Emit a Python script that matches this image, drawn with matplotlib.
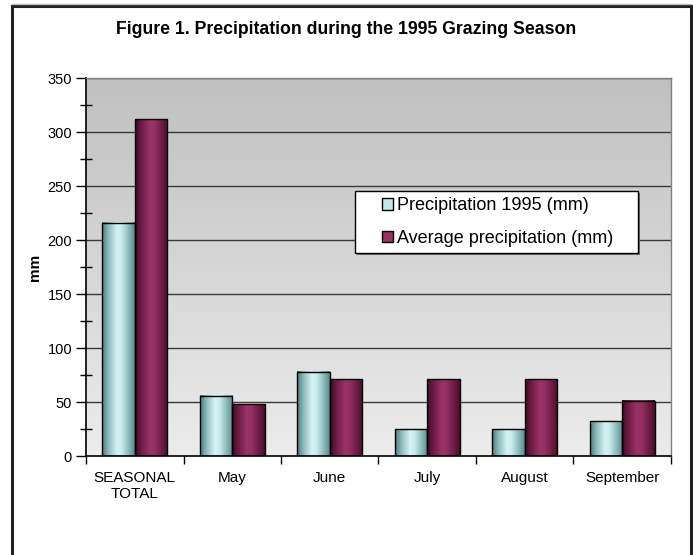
import numpy as np
import matplotlib.pyplot as plt
from matplotlib.patches import Rectangle, Patch
from matplotlib.colors import LinearSegmentedColormap

plt.rcParams['font.family'] = ['Liberation Sans', 'DejaVu Sans']

categories = ['SEASONAL\nTOTAL', 'May', 'June', 'July', 'August', 'September']
precip_1995 = [216, 56, 78, 25, 25, 32]
precip_avg = [312, 48, 71, 71, 71, 51]
labels = ['Precipitation 1995 (mm)', 'Average precipitation (mm)']

fig = plt.figure(figsize=(6.93, 5.55), dpi=100)
fig.patch.set_facecolor('white')

# outer frame of the figure
fig.add_artist(Rectangle((12 / 693, -0.05), 679 / 693, 1.05 - 6 / 555,
                         transform=fig.transFigure, fill=False,
                         edgecolor='#222222', lw=2.2))
fig.add_artist(plt.Line2D([12 / 693, 691 / 693], [1 - 4 / 555, 1 - 4 / 555],
                          transform=fig.transFigure, color='#bbbbbb', lw=1))

fig.text(0.5, 1 - 30 / 555, 'Figure 1. Precipitation during the 1995 Grazing Season',
         ha='center', va='center', fontsize=12.7, fontweight='bold')

ax = fig.add_axes([86 / 693, 99 / 555, 585 / 693, 378 / 555])

x = np.arange(len(categories))
w = 1 / 3

# background gradient of plot area
bg = LinearSegmentedColormap.from_list('bg', ['#ececec', '#c0c0c0'])
ax.imshow(np.linspace(0, 1, 256).reshape(-1, 1), cmap=bg, aspect='auto',
          origin='lower', extent=(-0.5, len(categories) - 0.5, 0, 350), zorder=0)

for yv in range(50, 351, 50):
    ax.axhline(yv, color='#3a3a3a', lw=1, zorder=1)

cyan = LinearSegmentedColormap.from_list(
    'cy', [(0, '#4c7a7a'), (0.2, '#8fbcbc'), (0.45, '#d6f3f3'), (0.6, '#c8ecec'),
           (0.85, '#84b0b0'), (1, '#5a8888')])
maroon = LinearSegmentedColormap.from_list(
    'mr', [(0, '#3c0c22'), (0.2, '#6e1d45'), (0.45, '#9b3366'), (0.6, '#953063'),
           (0.85, '#681a40'), (1, '#4a1029')])

grad = np.linspace(0, 1, 128).reshape(1, -1)
for vals, offset, cmap in [(precip_1995, -w / 2, cyan), (precip_avg, w / 2, maroon)]:
    bars = ax.bar(x + offset, vals, width=w, facecolor='none', edgecolor='black',
                  lw=1, zorder=3)
    for b in bars:
        x0, y0 = b.get_x(), b.get_y()
        ax.imshow(grad, cmap=cmap, aspect='auto',
                  extent=(x0, x0 + b.get_width(), y0, y0 + b.get_height()), zorder=2)

ax.set_xlim(-0.5, len(categories) - 0.5)
ax.set_ylim(0, 350)

ax.set_yticks(range(0, 351, 50))
ax.set_yticks(range(25, 350, 50), minor=True)
ax.tick_params(axis='y', which='major', length=7, width=1, direction='out',
               labelsize=10.5, pad=3)
ax.tick_params(axis='y', which='minor', length=8, width=1, direction='inout')
ax.set_xticks(np.arange(-0.5, len(categories), 1))
ax.set_xticks(x, minor=True)
ax.set_xticklabels([])
ax.set_xticklabels(categories, minor=True)
ax.tick_params(axis='x', which='major', length=6, width=1, direction='out')
ax.tick_params(axis='x', which='minor', length=0, labelsize=11, pad=11)

for s in ['top', 'right']:
    ax.spines[s].set_color('#808080')
    ax.spines[s].set_linewidth(1)
for s in ['left', 'bottom']:
    ax.spines[s].set_color('black')
    ax.spines[s].set_linewidth(1.2)

ax.set_ylabel('mm', fontsize=11, fontweight='bold', labelpad=4)

# legend box with shadow
lx0, lx1, ly0, ly1 = 0.4598, 0.9436, 0.537, 0.7011
ax.add_patch(Rectangle((lx0 + 0.004, ly0 - 0.006), lx1 - lx0, ly1 - ly0,
                       transform=ax.transAxes, facecolor='#707070',
                       edgecolor='none', zorder=5))
ax.add_patch(Rectangle((lx0, ly0), lx1 - lx0, ly1 - ly0, transform=ax.transAxes,
                       facecolor='white', edgecolor='black', lw=1, zorder=6))

handles = [Patch(facecolor='#c4e8e8', edgecolor='black', lw=1),
           Patch(facecolor='#993366', edgecolor='black', lw=1)]
leg = ax.legend(handles, labels, loc='center left',
                bbox_to_anchor=(0.506, (ly0 + ly1) / 2),
                fontsize=13, frameon=False,
                handlelength=0.6, handleheight=0.6, handletextpad=0.25,
                borderpad=0, labelspacing=0.85, borderaxespad=0)
leg.set_zorder(7)

fig.savefig('out.png', dpi=100)
